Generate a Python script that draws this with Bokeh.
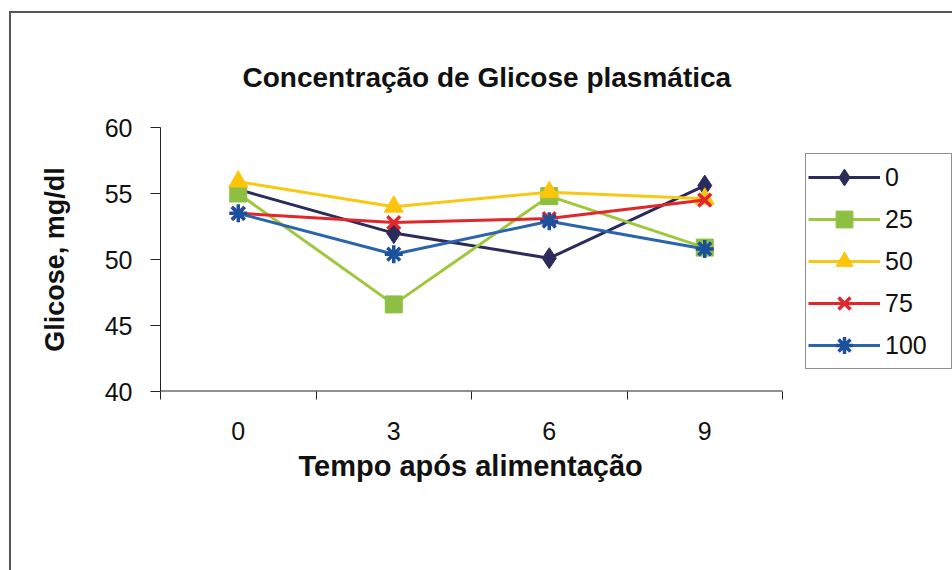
from bokeh.plotting import figure
from bokeh.models import FixedTicker, Legend, LegendItem, Range1d, Title
from bokeh.embed import file_html
from bokeh.resources import INLINE

# Tempo após alimentação (horas) e rótulos do eixo x
tempos = [0, 3, 6, 9]
rotulos_tempo = ["0", "3", "6", "9"]

# Níveis de inclusão (legenda)
grupos = ["0", "25", "50", "75", "100"]

# Glicose plasmática, mg/dl, por grupo
glicose_0 = [55.3, 52.0, 50.1, 55.6]
glicose_25 = [55.0, 46.6, 54.8, 50.9]
glicose_50 = [55.9, 54.0, 55.1, 54.6]
glicose_75 = [53.5, 52.8, 53.1, 54.5]
glicose_100 = [53.5, 50.4, 52.9, 50.8]

y_ticks = [40, 45, 50, 55, 60]

FONT = "Liberation Sans"

# category band around each time point (x axis spans the bands only)
passo = tempos[1] - tempos[0]
x_ini = tempos[0] - passo / 2
x_fim = tempos[-1] + passo / 2
limites = [x_ini + passo * i for i in range(len(tempos) + 1)]

# the frame runs on to the right edge so the legend can sit inside it
PLOT_W = 622
FRAME_W = 792
x_max = x_ini + (x_fim - x_ini) * FRAME_W / PLOT_W

# canvas sits inside a framed chart area (border drawn by CSS)
OFF_X, OFF_Y = 11, 13

p = figure(frame_width=FRAME_W, frame_height=264,
           output_backend="svg", toolbar_location=None,
           x_range=Range1d(x_ini, x_max), y_range=Range1d(40, 60),
           min_border_left=160 - OFF_X, min_border_right=0,
           min_border_top=127 - OFF_Y, min_border_bottom=179)
p.styles = {"margin-left": "9px", "margin-top": "11px",
            "border-left": "2px solid #555555",
            "border-top": "2px solid #555555"}
p.background_fill_color = "white"
p.border_fill_color = "white"
p.outline_line_color = None
p.xgrid.visible = False
p.ygrid.visible = False

# Title (left-aligned with an offset so it is centred over the axes)
p.title.text = "Concentração de Glicose plasmática"
p.title.align = "left"
p.title.text_font = FONT
p.title.text_font_size = "28px"
p.title.text_font_style = "bold"
p.title.text_color = "#111111"
p.title.standoff = 70
p.title.offset = 82

# x axis: labels at the time points, tick marks between them
xa = p.xaxis[0]
xa.ticker = FixedTicker(ticks=tempos, minor_ticks=limites)
xa.major_label_overrides = {t: r for t, r in zip(tempos, rotulos_tempo)}
xa.major_tick_line_color = None
xa.major_tick_in = 0
xa.major_tick_out = 0
xa.minor_tick_in = 0
xa.minor_tick_out = 8
xa.minor_tick_line_color = "#222222"
xa.axis_line_color = None
xa.major_label_standoff = 22
xa.major_label_text_font = FONT
xa.major_label_text_font_size = "25px"
xa.major_label_text_color = "#111111"

# x axis title, placed below the tick labels
x_titulo = Title(text="Tempo após alimentação", align="left", offset=138,
                 standoff=10, text_font=FONT, text_font_size="29px",
                 text_font_style="bold", text_color="#111111")
p.add_layout(x_titulo, "below")

# y axis
ya = p.yaxis[0]
ya.ticker = FixedTicker(ticks=y_ticks)
ya.major_tick_in = 0
ya.major_tick_out = 10
ya.minor_tick_line_color = None
ya.major_tick_line_color = "#222222"
ya.axis_line_color = "#222222"
ya.major_label_standoff = 18
ya.major_label_text_font = FONT
ya.major_label_text_font_size = "25px"
ya.major_label_text_color = "#111111"
ya.axis_label = "Glicose, mg/dl"
ya.axis_label_text_font = FONT
ya.axis_label_text_font_size = "27px"
ya.axis_label_text_font_style = "bold"
ya.axis_label_text_color = "#111111"
ya.axis_label_standoff = 32

# x axis line over the category bands only
p.segment(x0=[x_ini], y0=[y_ticks[0]], x1=[x_fim], y1=[y_ticks[0]],
          line_color="#222222", line_width=2)

# Series
series = [
    (glicose_0, "#2b2b5c", "#2b2b5c", "diamond", 21),
    (glicose_25, "#9fc73c", "#8dbf43", "square", 17),
    (glicose_50, "#f9c813", "#fcc40b", "triangle", 19),
    (glicose_75, "#e1262c", "#e1262c", "x", 18),
    (glicose_100, "#2a64ab", "#1c4f9c", "asterisk", 18),
]

items = []
for nome, (vals, lc, mc, marker, size) in zip(grupos, series):
    ln = p.line(tempos, vals, line_color=lc, line_width=3)
    if marker in ("x", "asterisk"):
        mk = p.scatter(tempos, vals, marker=marker, size=size,
                       line_color=mc, line_width=3.5)
    else:
        mk = p.scatter(tempos, vals, marker=marker, size=size,
                       fill_color=mc, line_color=mc, line_width=1)
    items.append(LegendItem(label=nome, renderers=[ln, mk]))

legend = Legend(items=items, location=(645, 22), orientation="vertical",
                border_line_color="#222222", border_line_width=1.5,
                background_fill_color="white", background_fill_alpha=1,
                label_text_font=FONT, label_text_font_size="25px",
                label_text_color="#111111",
                glyph_width=72, glyph_height=42, spacing=0, padding=2,
                label_standoff=5, label_width=64, margin=0)
p.add_layout(legend, "center")

open("out.html", "w").write(file_html(p, INLINE))
